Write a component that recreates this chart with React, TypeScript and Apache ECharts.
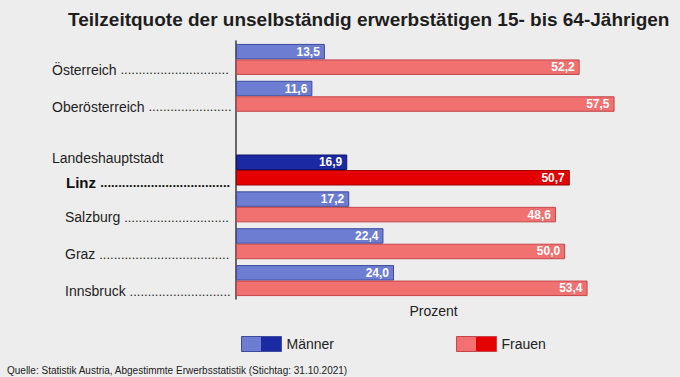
import React, { useEffect, useRef } from 'react';
import * as echarts from 'echarts';

const categories = ['Österreich', 'Oberösterreich', '', 'Linz', 'Salzburg', 'Graz', 'Innsbruck'];
const maenner: (number | null)[] = [13.5, 11.6, null, 16.9, 17.2, 22.4, 24.0];
const frauen: (number | null)[] = [52.2, 57.5, null, 50.7, 48.6, 50.0, 53.4];
const seriesNames = ['Männer', 'Frauen'];
const highlight = 'Linz';
const highlightPrefix = 'Landeshauptstadt';
const indented = ['Linz', 'Salzburg', 'Graz', 'Innsbruck'];
const titleText = 'Teilzeitquote der unselbständig erwerbstätigen 15- bis 64-Jährigen';
const sourceText = 'Quelle: Statistik Austria, Abgestimmte Erwerbsstatistik (Stichtag: 31.10.2021)';
const xAxisName = 'Prozent';
const xMax = 60;

const FONT = '"Liberation Sans", Arial, Helvetica, sans-serif';
const LIGHT_BLUE = '#6d7dd2';
const LIGHT_BLUE_BORDER = '#3d4a9e';
const DARK_BLUE = '#1b29a3';
const DARK_BLUE_BORDER = '#0f186c';
const LIGHT_RED = '#f17171';
const LIGHT_RED_BORDER = '#c4464a';
const DARK_RED = '#e40000';
const DARK_RED_BORDER = '#a00000';

const GRID_LEFT = 236;
const LABEL_LEFT = 52;
const DOTS_END = 232;

let measureCtx: CanvasRenderingContext2D | null = null;
function textWidth(text: string, font: string): number {
  if (!measureCtx) measureCtx = document.createElement('canvas').getContext('2d');
  if (!measureCtx) return text.length * 7;
  measureCtx.font = font;
  return measureCtx.measureText(text).width;
}

function dots(startX: number, font: string): string {
  const w = textWidth('.', font);
  const n = Math.max(0, Math.floor((DOTS_END - startX) / w));
  return '.'.repeat(n);
}

function labelFor(name: string): string {
  if (!name) return '';
  if (name === highlight) {
    const pad = 14;
    const nm = name + ' ';
    const w = textWidth(nm, `bold 15px ${FONT}`);
    const d = dots(LABEL_LEFT + pad + w, `bold 13px ${FONT}`);
    return `{lh|${highlightPrefix}}\n{nb|${nm}}{db|${d}}`;
  }
  const isInd = indented.includes(name);
  const pad = isInd ? 13 : 0;
  const nm = name + ' ';
  const w = textWidth(nm, `14px ${FONT}`);
  const d = dots(LABEL_LEFT + pad + w, `13px ${FONT}`);
  return `{sp| }\n{${isInd ? 'ni' : 'n'}|${nm}}{d|${d}}`;
}

function fmt(v: number): string {
  return v.toFixed(1).replace('.', ',');
}

function twoTone(light: string, dark: string) {
  return new echarts.graphic.LinearGradient(0, 0, 1, 0, [
    { offset: 0, color: light },
    { offset: 0.5, color: light },
    { offset: 0.5, color: dark },
    { offset: 1, color: dark },
  ]);
}

export default function App() {
  const ref = useRef<HTMLDivElement>(null);

  useEffect(() => {
    if (!ref.current) return;
    const chart = echarts.init(ref.current, undefined, { renderer: 'svg' });

    const valueLabel = {
      show: true,
      position: 'insideRight',
      distance: 5,
      color: '#ffffff',
      fontWeight: 'bold',
      fontSize: 12,
      fontFamily: FONT,
      formatter: (p: any) => (p.value == null ? '' : fmt(Number(p.value))),
    };

    const option: any = {
      animation: false,
      backgroundColor: '#ededed',
      textStyle: { fontFamily: FONT },
      title: [
        {
          text: titleText,
          left: 63,
          top: 5,
          textStyle: { fontSize: 19, fontWeight: 'bold', color: '#1e1e1e', fontFamily: FONT },
        },
        {
          text: sourceText,
          left: 2,
          top: 360,
          textStyle: { fontSize: 10, fontWeight: 'normal', color: '#222', fontFamily: FONT },
        },
      ],
      legend: {
        left: 236,
        top: 331,
        itemWidth: 40,
        itemHeight: 15,
        itemGap: 122,
        textStyle: { fontSize: 14, color: '#222', fontFamily: FONT },
        data: [
          {
            name: seriesNames[0],
            icon: 'rect',
            itemStyle: { color: twoTone(LIGHT_BLUE, DARK_BLUE), borderColor: LIGHT_BLUE_BORDER, borderWidth: 1 },
          },
          {
            name: seriesNames[1],
            icon: 'rect',
            itemStyle: { color: twoTone(LIGHT_RED, DARK_RED), borderColor: LIGHT_RED_BORDER, borderWidth: 1 },
          },
        ],
      },
      grid: { left: GRID_LEFT, top: 41, width: 395, height: 258, containLabel: false },
      xAxis: {
        type: 'value',
        min: 0,
        max: xMax,
        axisLine: { show: false },
        axisTick: { show: false },
        axisLabel: { show: false },
        splitLine: { show: false },
        name: xAxisName,
        nameLocation: 'middle',
        nameGap: 5,
        nameTextStyle: { fontSize: 14, color: '#222', fontFamily: FONT },
      },
      yAxis: {
        type: 'category',
        inverse: true,
        data: categories,
        axisLine: { show: true, lineStyle: { color: '#3a3a3a', width: 1.5 } },
        axisTick: { show: false },
        splitLine: { show: false },
        axisLabel: {
          interval: 0,
          align: 'left',
          margin: GRID_LEFT - LABEL_LEFT,
          formatter: (v: string) => labelFor(v),
          rich: {
            sp: { fontSize: 14, lineHeight: 21 },
            n: { fontSize: 14, lineHeight: 21, color: '#1e1e1e', fontFamily: FONT },
            ni: { fontSize: 14, lineHeight: 21, color: '#1e1e1e', fontFamily: FONT, padding: [0, 0, 0, 13] },
            d: { fontSize: 13, lineHeight: 21, color: '#1e1e1e', fontFamily: FONT },
            lh: { fontSize: 14, lineHeight: 25, color: '#1e1e1e', fontFamily: FONT },
            nb: { fontSize: 15, lineHeight: 25, fontWeight: 'bold', color: '#111', fontFamily: FONT, padding: [0, 0, 0, 14] },
            db: { fontSize: 13, lineHeight: 25, fontWeight: 'bold', color: '#111', fontFamily: FONT },
          },
        },
      },
      series: [
        {
          name: seriesNames[0],
          type: 'bar',
          barWidth: 15.5,
          barGap: '0%',
          itemStyle: { color: LIGHT_BLUE, borderColor: LIGHT_BLUE_BORDER, borderWidth: 1 },
          label: valueLabel,
          data: maenner.map((v, i) =>
            categories[i] === highlight
              ? { value: v, itemStyle: { color: DARK_BLUE, borderColor: DARK_BLUE_BORDER, borderWidth: 1 } }
              : v
          ),
        },
        {
          name: seriesNames[1],
          type: 'bar',
          barWidth: 15.5,
          barGap: '0%',
          itemStyle: { color: LIGHT_RED, borderColor: LIGHT_RED_BORDER, borderWidth: 1 },
          label: valueLabel,
          data: frauen.map((v, i) =>
            categories[i] === highlight
              ? { value: v, itemStyle: { color: DARK_RED, borderColor: DARK_RED_BORDER, borderWidth: 1 } }
              : v
          ),
        },
      ],
    };

    chart.setOption(option);
    return () => chart.dispose();
  }, []);

  return (
    <div
      ref={ref}
      style={{ position: 'fixed', left: 0, top: 0, width: 680, height: 377 }}
    />
  );
}
